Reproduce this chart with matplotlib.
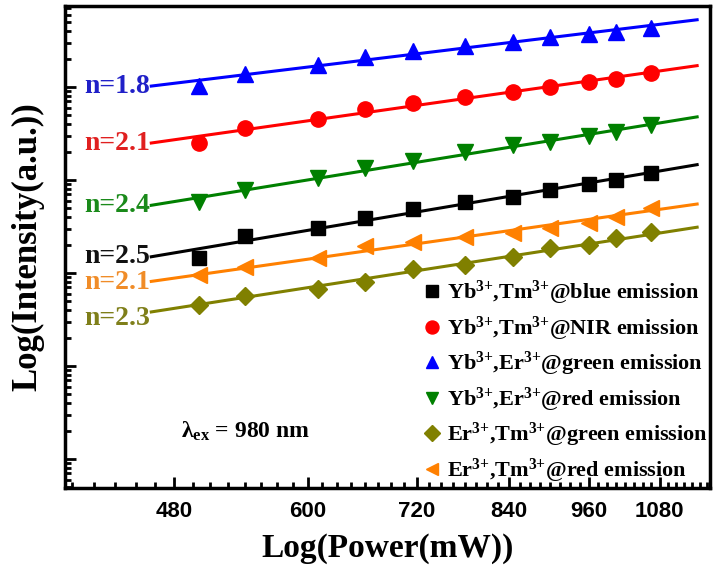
import numpy as np
import matplotlib
matplotlib.use('Agg')
import matplotlib.pyplot as plt
from matplotlib.ticker import FixedLocator, FixedFormatter, MultipleLocator, NullFormatter, LogLocator

#=========================================================
#                  data
#=========================================================
power = np.array([500, 540, 610, 660, 715, 780, 845, 900, 960, 1005, 1065])  # mW

I_TmBlue  = np.array([1449, 2500, 3048, 3899, 4875, 5794, 6561, 7798, 9057, 10000, 11890])
I_TmNIR   = np.array([25000, 36220, 45290, 57940, 67300, 77980, 88310, 100000, 113200, 121900, 141600])
I_ErGreen = np.array([102600, 138000, 172600, 210400, 243800, 276100, 304800, 345100, 371500, 390000, 430500])
I_ErRed   = np.array([5794, 7798, 10520, 13460, 16000, 20000, 23770, 25650, 29720, 32810, 38990])
I_EtGreen = np.array([452.9, 566.2, 673.0, 799.8, 1104, 1219, 1486, 1858, 2000, 2377, 2761])
I_EtRed   = np.array([950.6, 1161, 1449, 1950, 2153, 2438, 2692, 3048, 3451, 4000, 5000])

slopes = [2.5, 2.1, 1.8, 2.4, 2.3, 2.1]
labels = [r'Yb$^{3{+}}$,Tm$^{3{+}}$@blue emission',
          r'Yb$^{3{+}}$,Tm$^{3{+}}$@NIR emission',
          r'Yb$^{3{+}}$,Er$^{3{+}}$@green emission',
          r'Yb$^{3{+}}$,Er$^{3{+}}$@red emission',
          r'Er$^{3{+}}$,Tm$^{3{+}}$@green emission',
          r'Er$^{3{+}}$,Tm$^{3{+}}$@red emission']
x_ticks = [480, 600, 720, 840, 960, 1080]

#=========================================================
#                  styles
#=========================================================
plt.rcParams['font.family'] = ['Liberation Serif', 'DejaVu Serif']
plt.rcParams['mathtext.fontset'] = 'custom'
plt.rcParams['mathtext.rm'] = 'Liberation Serif:bold'
plt.rcParams['mathtext.bf'] = 'Liberation Serif:bold'
plt.rcParams['mathtext.it'] = 'Liberation Serif:bold'

a_I    = [I_TmBlue, I_TmNIR, I_ErGreen, I_ErRed, I_EtGreen, I_EtRed]
colors = ['#000000', '#ff0000', '#0000ff', '#008000', '#808000', '#ff8000']
txtcol = ['#111111', '#e02020', '#2020c8', '#1a8a1a', '#7f7f1a', '#f08c28']
marks  = ['s', 'o', '^', 'v', 'D', '<']
msize  = [10, 11, 11, 11, 9, 11]
lab_dy = [0, 0, 0, 0, -5, -1]   # nudge of the n= labels (pt)

x_fit = np.array([462, 1150])

#=========================================================
#                  Plot
#=========================================================
fig = plt.figure(figsize=(7.13, 5.66), dpi=100)
ax = fig.add_axes([0.0912, 0.1378, 0.9046, 0.8516])

for i in range(6):
    a_y = a_I[i]
    n = slopes[i]
    b = np.mean(np.log10(a_y) - n*np.log10(power))
    y_fit = 10**b * x_fit**n
    ax.plot(x_fit, y_fit, '-', color=colors[i], lw=2.2, zorder=2)
    ax.plot(power, a_y, marks[i], color=colors[i], ms=msize[i], mec=colors[i],
            ls='none', label=labels[i], zorder=3)
    ax.annotate('n=%.1f' % n, xy=(x_fit[0], y_fit[0]), xytext=(-1, lab_dy[i]),
                textcoords='offset points', ha='right', va='center',
                fontsize=20, fontweight='bold', color=txtcol[i])

ax.set_xscale('log')
ax.set_yscale('log')
ax.set_xlim(400, 1175)
ax.set_ylim(10**0.688, 10**5.87)

ax.xaxis.set_major_locator(FixedLocator(x_ticks))
ax.xaxis.set_minor_locator(MultipleLocator(15))
ax.xaxis.set_major_formatter(FixedFormatter([str(v) for v in x_ticks]))
ax.xaxis.set_minor_formatter(NullFormatter())
ax.yaxis.set_major_locator(LogLocator(base=10))
ax.yaxis.set_minor_locator(LogLocator(base=10, subs=np.arange(2, 10)))
ax.yaxis.set_major_formatter(NullFormatter())
ax.yaxis.set_minor_formatter(NullFormatter())

ax.tick_params(which='both', direction='in', top=False, right=False, width=2)
ax.tick_params(which='major', length=8, pad=9)
ax.tick_params(which='minor', length=4)
for lab in ax.get_xticklabels():
    lab.set_family('Liberation Sans')
    lab.set_fontsize(16)
    lab.set_fontweight('bold')
for sp in ax.spines.values():
    sp.set_linewidth(2.5)

ax.set_xlabel('Log(Power(mW))', fontsize=24, fontweight='bold', labelpad=8)
ax.set_ylabel('Log(Intensity(a.u.))', fontsize=25, fontweight='bold', labelpad=6)

ax.text(0.18, 0.105, 'λ$_{\\mathbf{ex}}$ = 980 nm', transform=ax.transAxes,
        fontsize=17, fontweight='bold')

ax.legend(loc='lower right', bbox_to_anchor=(1.01, -0.012), frameon=False,
          handletextpad=0.15, handlelength=1.0, markerscale=0.85,
          labelspacing=0.33, borderaxespad=0.0,
          prop={'weight': 'bold', 'size': 16})

fig.savefig('out.png', dpi=100)
